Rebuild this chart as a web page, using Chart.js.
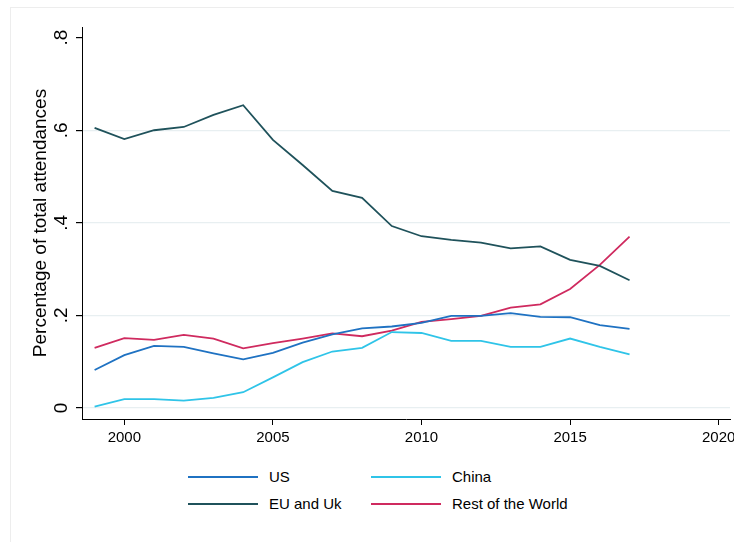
<!DOCTYPE html>
<html>
<head>
<meta charset="utf-8">
<script src="https://cdn.jsdelivr.net/npm/chart.js@4"></script>
<style>
  html, body { margin: 0; padding: 0; background: #fff; }
  body { width: 734px; height: 542px; position: relative; overflow: hidden; font-family: "Liberation Sans", Arial, sans-serif; }
  #frame { position: absolute; left: 10px; top: 7px; right: 0; bottom: 0; border-left: 1px solid #ededed; border-top: 1px solid #ededed; }
  #wrap { position: absolute; left: 0; top: 0; width: 734px; height: 455px; }
  #legend { position: absolute; left: 188px; top: 463px; display: grid; grid-template-columns: 183px 200px; grid-auto-rows: 27px; }
  .item { display: flex; align-items: center; font-size: 15px; color: #000; white-space: nowrap; }
  .swatch { flex: none; width: 70px; height: 2px; margin-right: 11px; }
</style>
</head>
<body>
<div id="frame"></div>
<div id="wrap"><canvas id="chart"></canvas></div>
<div id="legend"></div>
<script>
const years = [1999, 2000, 2001, 2002, 2003, 2004, 2005, 2006, 2007, 2008, 2009, 2010, 2011, 2012, 2013, 2014, 2015, 2016, 2017];
const usShare = [0.082, 0.114, 0.134, 0.132, 0.118, 0.105, 0.119, 0.141, 0.159, 0.172, 0.176, 0.184, 0.199, 0.199, 0.205, 0.197, 0.196, 0.179, 0.171];
const euShare = [0.605, 0.581, 0.600, 0.607, 0.633, 0.654, 0.579, 0.525, 0.469, 0.454, 0.393, 0.371, 0.363, 0.357, 0.345, 0.349, 0.320, 0.307, 0.276];
const chinaShare = [0.003, 0.019, 0.019, 0.016, 0.022, 0.034, 0.066, 0.099, 0.122, 0.130, 0.164, 0.162, 0.145, 0.145, 0.132, 0.132, 0.150, 0.132, 0.116];
const restShare = [0.130, 0.151, 0.147, 0.158, 0.150, 0.129, 0.140, 0.150, 0.161, 0.155, 0.167, 0.186, 0.192, 0.199, 0.217, 0.224, 0.257, 0.309, 0.370];

const seriesNames = ['US', 'EU and Uk', 'China', 'Rest of the World'];
const seriesColors = ['#1f72c2', '#1f525b', '#2fc4e8', '#cf2a5f'];
const seriesValues = [usShare, euShare, chinaShare, restShare];
// legend reads across: US, China / EU and Uk, Rest of the World
const legendOrder = [0, 2, 1, 3];

const xTicks = [2000, 2005, 2010, 2015, 2020];
const yTicks = [0, 0.2, 0.4, 0.6, 0.8];

Chart.defaults.font.family = '"Liberation Sans", Arial, sans-serif';
Chart.defaults.color = '#000';

const datasets = seriesNames.map((name, i) => ({
  label: name,
  data: years.map((yr, j) => ({ x: yr, y: seriesValues[i][j] })),
  borderColor: seriesColors[i],
  backgroundColor: seriesColors[i],
  borderWidth: 1.8,
  pointRadius: 0,
  tension: 0,
  fill: false,
}));

new Chart(document.getElementById('chart'), {
  type: 'line',
  data: { datasets },
  options: {
    responsive: true,
    maintainAspectRatio: false,
    animation: false,
    layout: { padding: { top: 27, right: 4, left: 0, bottom: 0 } },
    plugins: { legend: { display: false }, tooltip: { enabled: false } },
    scales: {
      x: {
        type: 'linear',
        min: 1998.576,
        max: 2020.38,
        afterBuildTicks: (s) => { s.ticks = xTicks.map((v) => ({ value: v })); },
        ticks: { font: { size: 15 }, padding: 4, callback: (v) => String(v) },
        grid: { display: true, drawOnChartArea: false, tickLength: 6, tickColor: '#000' },
        border: { display: true, color: '#000', width: 1 },
        afterFit: (s) => { s.height = 36; s.paddingLeft = 0; s.paddingRight = 0; },
      },
      y: {
        min: -0.0238,
        max: 0.823,
        afterBuildTicks: (s) => { s.ticks = yTicks.map((v) => ({ value: v })); },
        ticks: {
          font: { size: 19 },
          minRotation: 90,
          maxRotation: 90,
          crossAlign: 'center',
          padding: 6,
          callback: (v) => {
            const n = Math.round(v * 10);
            return n === 0 ? '0' : '.' + n;
          },
        },
        grid: {
          color: (ctx) => (ctx.tick && ctx.tick.value > 0.7 ? 'rgba(0,0,0,0)' : '#e8eff1'),
          lineWidth: 1.2,
          tickLength: 6,
          tickColor: '#000',
        },
        border: { display: true, color: '#000', width: 1 },
        title: {
          display: true,
          text: 'Percentage of total attendances',
          font: { size: 19 },
          padding: { top: 29, bottom: 0 },
        },
        afterFit: (s) => { s.width = 82; s.paddingTop = 0; s.paddingBottom = 0; },
      },
    },
  },
});

const legendEl = document.getElementById('legend');
legendEl.innerHTML = legendOrder.map((i) => `
  <div class="item"><span class="swatch" style="background:${seriesColors[i]}"></span>${seriesNames[i]}</div>
`).join('');
</script>
</body>
</html>
